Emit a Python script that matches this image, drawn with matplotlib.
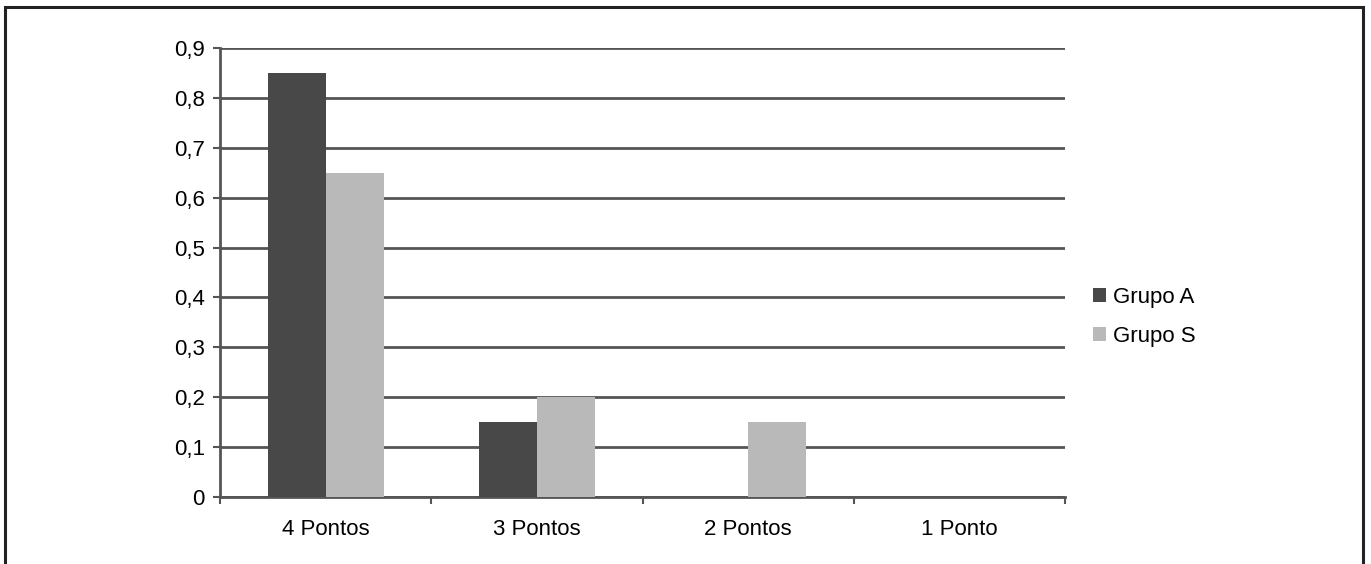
import matplotlib
matplotlib.use("Agg")
import matplotlib.pyplot as plt
from matplotlib.patches import Rectangle
import numpy as np

categories = ["4 Pontos", "3 Pontos", "2 Pontos", "1 Ponto"]
grupo_a = [0.85, 0.15, 0.0, 0.0]
grupo_s = [0.65, 0.20, 0.15, 0.0]
y_ticks = [0, 0.1, 0.2, 0.3, 0.4, 0.5, 0.6, 0.7, 0.8, 0.9]
y_tick_labels = ["0", "0,1", "0,2", "0,3", "0,4", "0,5", "0,6", "0,7", "0,8", "0,9"]
series_names = ["Grupo A", "Grupo S"]

plt.rcParams["font.family"] = ["Liberation Sans", "DejaVu Sans"]

dark = "#484848"
light = "#b9b9b9"
line_col = "#555555"
fs = 16

fig = plt.figure(figsize=(13.71, 5.64), dpi=100)
fig.patch.set_facecolor("white")

# outer frame
fig.patches.append(Rectangle((5 / 1371, -0.05), (1363 - 5) / 1371, 1.05 - 7 / 564,
                             transform=fig.transFigure, fill=False,
                             edgecolor="#222222", linewidth=2.2))

ax = fig.add_axes([220 / 1371, 1 - 497 / 564, (1065 - 220) / 1371, (497 - 48) / 564])

x = np.arange(len(categories))
w = 0.275
ax.bar(x - w / 2, grupo_a, w, color=dark, label=series_names[0], zorder=3)
ax.bar(x + w / 2, grupo_s, w, color=light, label=series_names[1], zorder=3)

ax.set_xlim(-0.5, len(categories) - 0.5)
ax.set_ylim(0, 0.9)
ax.set_yticks(y_ticks)
ax.set_yticklabels(y_tick_labels, fontsize=fs)
ax.set_xticks(x)
ax.set_xticklabels(categories, fontsize=fs)
ax.tick_params(axis="x", which="major", length=0, pad=16)
ax.set_xticks(np.arange(-0.5, len(categories), 1.0), minor=True)
ax.tick_params(axis="x", which="minor", length=5, width=1.5, color=line_col)
ax.tick_params(axis="y", length=5, width=1.5, color=line_col, pad=6)

ax.yaxis.grid(True, color=line_col, linewidth=2.0, zorder=1)
ax.set_axisbelow(True)
for s in ["top", "right"]:
    ax.spines[s].set_visible(False)
ax.spines["left"].set_color(line_col)
ax.spines["left"].set_linewidth(2.0)
ax.spines["bottom"].set_color(line_col)
ax.spines["bottom"].set_linewidth(2.0)

ax.legend(loc="center left", bbox_to_anchor=(1084 / 1371, 1 - 317 / 564),
          bbox_transform=fig.transFigure, frameon=False, fontsize=fs,
          handlelength=0.6, handleheight=0.6, handletextpad=0.3,
          labelspacing=0.8, borderaxespad=0)

fig.savefig("out.png", dpi=100, facecolor="white")
